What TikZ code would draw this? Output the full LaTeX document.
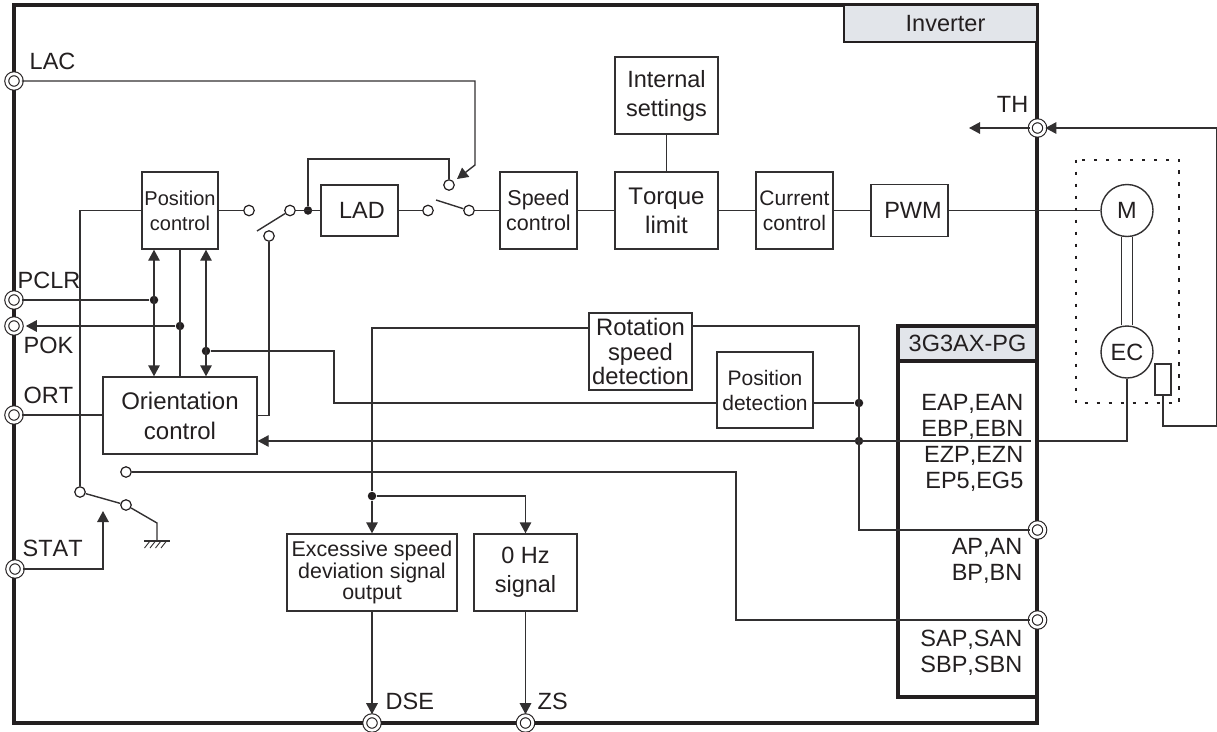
\documentclass[tikz,border=0pt]{standalone}
\usepackage{fontspec}
\setmainfont[Kerning=Off]{Liberation Sans}
\usetikzlibrary{arrows.meta}
\usetikzlibrary{positioning}
\definecolor{inkcolor}{RGB}{35,31,32}
\definecolor{linecolor}{RGB}{50,48,49}
\definecolor{headcolor}{RGB}{226,229,234}
\tikzset{myBox/.style={rectangle,draw=linecolor,line width=1.4pt,fill=white,text=inkcolor,align=center,inner sep=0pt,font=\fontsize{23.5}{26}\selectfont}}
\tikzset{midBox/.style={myBox,font=\fontsize{21.5}{25}\selectfont}}
\tikzset{smallBox/.style={myBox,font=\fontsize{20}{25}\selectfont}}
\tikzset{myLabel/.style={text=inkcolor,inner sep=0pt,font=\fontsize{23.5}{26}\selectfont}}
\tikzset{terminal/.style={circle,draw=inkcolor,fill=white,line width=1.1pt,double=white,double distance=2.8pt,minimum size=14.5pt,inner sep=0pt}}
\tikzset{contact/.style={circle,draw=inkcolor,fill=white,line width=1.2pt,minimum size=10.5pt,inner sep=0pt}}
\tikzset{joint/.style={circle,fill=inkcolor,minimum size=8.5pt,inner sep=0pt}}
\begin{document}
\begin{tikzpicture}[x=1pt,y=-1pt,line width=1.4pt,draw=linecolor,>={Triangle[length=11pt,width=11.5pt]}]
	\useasboundingbox (0,0) rectangle (1217,731);
	\node[draw=inkcolor,line width=3.6pt,minimum width=1023pt,minimum height=718pt,inner sep=0pt] (inverter) at (525.5,364) {};
	\node[myBox,draw=inkcolor,line width=2.4pt,fill=headcolor,minimum width=193pt,minimum height=37pt] (invname) at (940.5,23.5) {\hspace*{10pt}Inverter};
	\node[myBox,draw=inkcolor,line width=3.6pt,fill=none,minimum width=139pt,minimum height=371pt] (pgcard) at (967.5,511.5) {};
	\node[myBox,draw=inkcolor,line width=3.6pt,fill=headcolor,minimum width=139pt,minimum height=35pt] (pgname) at (967.5,343.5) {3G3AX-PG};

	\node[smallBox,minimum width=76pt,minimum height=77pt] (posctl) at (180,210.5) {Position\\control};
	\node[myBox,font=\fontsize{24}{30}\selectfont,minimum width=154pt,minimum height=77pt] (orient) at (180,415.5) {Orientation\\control};
	\node[myBox,minimum width=77pt,minimum height=51pt] (lad) at (359.5,210.5) {\hspace*{5pt}LAD};
	\node[midBox,minimum width=77pt,minimum height=77pt] (speed) at (538.5,210.5) {Speed\\control};
	\node[myBox,font=\fontsize{23.5}{29}\selectfont,minimum width=103pt,minimum height=77pt] (settings) at (666.5,95.5) {Internal\\settings};
	\node[myBox,font=\fontsize{24}{29}\selectfont,minimum width=103pt,minimum height=77pt] (torque) at (666.5,210.5) {Torque\\limit};
	\node[midBox,font=\fontsize{21}{25}\selectfont,minimum width=77pt,minimum height=77pt] (current) at (794.5,210.5) {Current\\control};
	\node[myBox,minimum width=77pt,minimum height=52pt] (pwm) at (909.5,210.5) {\hspace*{7pt}PWM};
	\node[myBox,font=\fontsize{23.8}{24.5}\selectfont,minimum width=103pt,minimum height=77pt] (rotation) at (640.5,351.5) {Rotation\\speed\\detection};
	\node[smallBox,font=\fontsize{21}{25}\selectfont,minimum width=96pt,minimum height=76pt] (posdet) at (765,390) {Position\\detection};
	\node[myBox,font=\fontsize{21.4}{21.5}\selectfont,minimum width=170pt,minimum height=77pt] (excess) at (372,572.5) {Excessive speed\\deviation signal\\output};
	\node[myBox,font=\fontsize{23.5}{29}\selectfont,minimum width=103pt,minimum height=77pt] (zerohz) at (525.5,572.5) {0 Hz\\signal};

	\node[myBox,circle,minimum size=52pt] (motor) at (1127,210.5) {M};
	\node[myBox,circle,minimum size=52pt] (encoder) at (1127,352) {EC};
	\node[myBox,minimum width=16pt,minimum height=31pt] (thermal) at (1163,379.5) {};

	\node[terminal] (lac) at (14,81) {};
	\node[terminal] (pclr) at (14,300) {};
	\node[terminal] (pok) at (14,326) {};
	\node[terminal] (ort) at (14,415) {};
	\node[terminal] (stat) at (15,569) {};
	\node[terminal] (dse) at (372,723) {};
	\node[terminal] (zs) at (525.5,723) {};
	\node[terminal] (th) at (1037.5,128) {};
	\node[terminal] (ap) at (1037.5,530) {};
	\node[terminal] (sap) at (1037.5,620) {};

	\node[contact] (swa) at (249,210.5) {};
	\node[contact] (swb) at (290,210.5) {};
	\node[contact] (swc) at (269,236) {};
	\node[contact] (swd) at (428,210.5) {};
	\node[contact] (swe) at (469,210.5) {};
	\node[contact] (swf) at (449,185) {};
	\node[contact] (swg) at (80,492) {};
	\node[contact] (swh) at (126,505) {};
	\node[contact] (swi) at (126,472) {};

	\node[joint] (laddot) at (308,210.5) {};
	\node[joint] (pclrdot) at (154,300) {};
	\node[joint] (pokdot) at (180,326) {};
	\node[joint] (oridot) at (206,351) {};
	\node[joint] (excdot) at (372,496) {};
	\node[joint] (posdot) at (859,403) {};
	\node[joint] (encdot) at (859,441) {};

	\coordinate (lacbend) at (475,165);
	\coordinate (lactip) at (457,179);
	\coordinate (ladtop) at (449,159);
	\coordinate (levera) at (257,231);
	\coordinate (leverb) at (436,200);
	\coordinate (stattip) at (103,511);
	\coordinate (gndtop) at (157,523);
	\coordinate (gndbar) at (157,541);
	\coordinate (sapbend) at (736,620);
	\coordinate (apbend) at (859,530);
	\coordinate (pdbend) at (334,403);
	\coordinate (rotleft) at (589,328);
	\coordinate (rotright) at (692,326);
	\coordinate (zerobend) at (525.5,496);
	\coordinate (thtip) at (969,128);
	\coordinate (thcorner) at (1216.2,426);
	\coordinate (encend) at (1031,441);
	\coordinate (encout) at (1038.5,441);

	\draw[->] (lac) -| (lacbend) -- (lactip);
	\draw (pclr) -- (pclrdot);
	\draw[<->] (pclrdot |- posctl.south) -- (pclrdot |- orient.north);
	\draw[->] (pokdot) -- ([xshift=4pt]pok.east);
	\draw (pokdot |- posctl.south) -- (pokdot |- orient.north);
	\draw[<->] (oridot |- posctl.south) -- (oridot |- orient.north);
	\draw (oridot) -| (pdbend) -- (posdet.west |- pdbend);
	\draw (ort) -- (orient.west |- ort);
	\draw (orient.east) -| (swc);
	\draw (posctl.west) -| (swg);
	\draw (posctl.east) -- (swa);
	\draw (levera) -- (swb);
	\draw (swb) -- (lad.west);
	\draw (laddot) |- (ladtop) -- (swf);
	\draw (lad.east) -- (swd);
	\draw (leverb) -- (swe);
	\draw (swe) -- (speed.west);
	\draw (speed.east) -- (torque.west);
	\draw (settings.south) -- (torque.north);
	\draw (torque.east) -- (current.west);
	\draw (current.east) -- (pwm.west);
	\draw (pwm.east) -- (motor.west);

	\draw (rotleft) -| (excdot);
	\draw[->] (excdot) -- (excess.north);
	\draw[->] (excdot) -| (zerobend) -- (zerohz.north);
	\draw[->] (excess.south) -- ([yshift=1pt]dse.north);
	\draw[->] (zerohz.south) -- ([yshift=1pt]zs.north);
	\draw (rotright) -| (apbend) -- (ap);
	\draw (posdet.east |- posdot) -- (posdot);

	\draw (swg) -- (swh);
	\draw (swh) -- (gndtop) -- (gndbar);
	\draw[line width=1.1pt] ([xshift=-13pt]gndbar) -- ([xshift=13pt]gndbar);
	\foreach \i in {0,1,2,3}
		\draw[line width=.9pt] ([xshift=-7pt+\i*5.5pt]gndbar) -- ([xshift=-12.5pt+\i*5.5pt,yshift=-7pt]gndbar);
	\draw[->] (stat) -| (stattip);
	\draw (swi) -| (sapbend) -- (sap);

	\draw ([xshift=-5.5pt]motor.south) -- ([xshift=-5.5pt]encoder.north);
	\draw ([xshift=5.5pt]motor.south) -- ([xshift=5.5pt]encoder.north);
	\draw (encoder.south) |- (encout);
	\draw[->] (encend) -- (orient.east |- encend);
	\draw[->] (th) -- (thtip);
	\draw[->] (thermal.south) |- (thcorner) |- (th);
	\draw[draw=inkcolor,line width=2pt,dash pattern=on 3.5pt off 8.5pt] (1076,159.5) rectangle (1179,403);

	\node[myLabel,anchor=west] (laclabel) at (29,61) {LAC};
	\node[myLabel,anchor=west] (pclrlabel) at (17,280.5) {PCLR};
	\node[myLabel,anchor=west] (poklabel) at (23,345) {POK};
	\node[myLabel,anchor=west] (ortlabel) at (23,395.5) {ORT};
	\node[myLabel,anchor=west] (statlabel) at (22,548.5) {STAT};
	\node[myLabel,anchor=west] (dselabel) at (385,701) {DSE};
	\node[myLabel,anchor=west] (zslabel) at (537,701) {ZS};
	\node[myLabel,anchor=east] (thlabel) at (1029,104.5) {TH};
	\node[myLabel,anchor=east] (eapan) at (1024,403.5) {EAP,EAN};
	\node[myLabel,anchor=east] (ebpbn) at (1024,429.5) {EBP,EBN};
	\node[myLabel,anchor=east] (ezpzn) at (1024,456) {EZP,EZN};
	\node[myLabel,anchor=east] (ep5g5) at (1024,482) {EP5,EG5};
	\node[myLabel,anchor=east] (apan) at (1023,548) {AP,AN};
	\node[myLabel,anchor=east] (bpbn) at (1023,574) {BP,BN};
	\node[myLabel,anchor=east] (sapan) at (1023,640) {SAP,SAN};
	\node[myLabel,anchor=east] (sbpbn) at (1023,666) {SBP,SBN};
\end{tikzpicture}
\end{document}
